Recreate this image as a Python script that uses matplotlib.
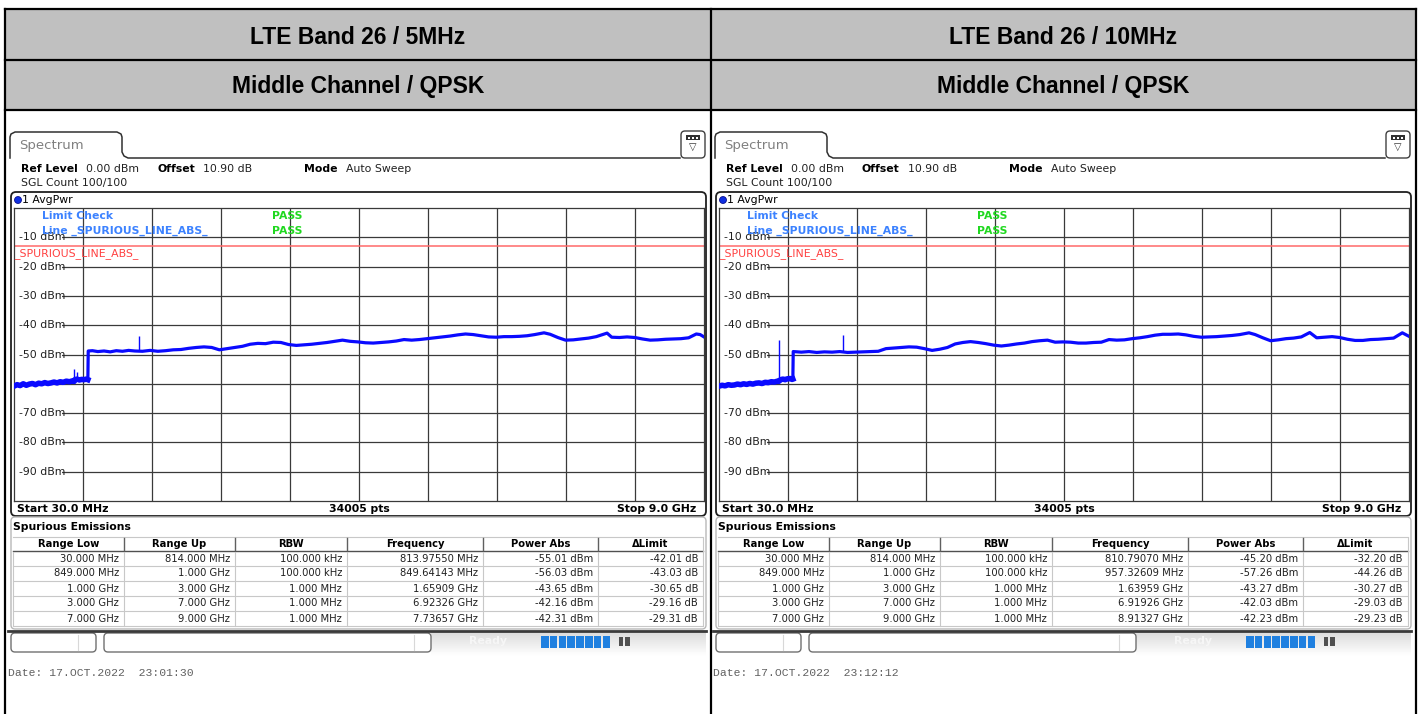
import matplotlib
matplotlib.use('Agg')
import matplotlib.pyplot as plt
import numpy as np
from matplotlib.patches import Rectangle, FancyBboxPatch, Circle

W, H = 1421, 714

titles = ['LTE Band 26 / 5MHz', 'LTE Band 26 / 10MHz']
subtitles = ['Middle Channel / QPSK', 'Middle Channel / QPSK']
dates = ['Date: 17.OCT.2022  23:01:30', 'Date: 17.OCT.2022  23:12:12']

# trace 1 (5MHz), MHz / dBm
freq_5 = [30, 70, 110, 150, 190, 230, 270, 310, 350, 390, 430, 470, 510, 550, 590, 630, 670, 710, 750, 790, 812,
          820, 850, 880, 910, 940, 970, 990,
          995, 1050, 1120, 1200, 1280, 1360, 1440, 1520, 1600, 1700, 1800, 1900, 2000, 2100, 2200, 2300, 2400,
          2500, 2600, 2700, 2800, 2900, 3000, 3100, 3200, 3300, 3400, 3500, 3600, 3700, 3800, 3900, 4000, 4100,
          4200, 4300, 4400, 4500, 4600, 4700, 4800, 4900, 5000, 5100, 5200, 5300, 5400, 5500, 5600, 5700, 5800,
          5900, 6000, 6100, 6200, 6300, 6400, 6500, 6600, 6700, 6800, 6920, 7000, 7100, 7200, 7300, 7400, 7500,
          7600, 7740, 7800, 7900, 8000, 8100, 8200, 8300, 8400, 8500, 8600, 8700, 8800, 8900, 8950, 9000]
level_5 = [-60.8, -60.3, -60.6, -60.0, -60.5, -60.1, -59.9, -60.3, -59.8, -60.0, -59.6, -59.9, -59.7, -59.4, -59.7,
           -59.3, -59.5, -59.1, -59.3, -59.0, -59.2,
           -58.6, -58.4, -58.7, -58.5, -58.6, -58.4, -58.6,
           -48.8, -48.7, -49.0, -48.8, -49.1, -48.7, -48.9, -48.6, -48.8, -48.9, -48.6, -48.9, -48.7, -48.4, -48.3,
           -47.9, -47.6, -47.4, -47.6, -48.4, -48.0, -47.6, -47.2, -46.5, -46.2, -46.3, -45.8, -45.9, -46.6, -46.9,
           -46.7, -46.5, -46.2, -45.9, -45.5, -45.1, -45.5, -45.7, -46.0, -46.1, -45.9, -45.7, -45.4, -44.9, -45.1,
           -44.9, -44.6, -44.3, -44.0, -43.7, -43.3, -43.0, -43.2, -43.6, -44.0, -44.1, -43.9, -43.9, -43.8, -43.6,
           -43.2, -42.6, -43.1, -44.2, -45.1, -45.0, -44.7, -44.4, -43.9, -42.7, -44.1, -44.2, -44.0, -44.2, -44.7,
           -45.1, -45.0, -44.8, -44.7, -44.6, -44.3, -43.0, -43.2, -44.0]
spike_f_5 = [813.98, 849.64, 1659.09]
spike_top_5 = [-55.01, -56.03, -43.65]

# trace 1 (10MHz)
freq_10 = [30, 70, 110, 150, 190, 230, 270, 310, 350, 390, 430, 470, 510, 550, 590, 630, 670, 710, 750, 790, 806,
           830, 860, 890, 920, 957, 980, 990,
           995, 1100, 1200, 1300, 1400, 1500, 1600, 1700, 1800, 1900, 2000, 2100, 2200, 2300, 2400, 2500, 2600,
           2700, 2800, 2900, 3000, 3100, 3200, 3300, 3400, 3500, 3600, 3700, 3800, 3900, 4000, 4100, 4200, 4300,
           4400, 4500, 4600, 4700, 4800, 4900, 5000, 5100, 5200, 5300, 5400, 5500, 5600, 5700, 5800, 5900, 6000,
           6100, 6200, 6300, 6400, 6500, 6600, 6700, 6800, 6920, 7000, 7100, 7200, 7300, 7400, 7500, 7600, 7710,
           7800, 7900, 8000, 8100, 8200, 8300, 8400, 8500, 8600, 8700, 8800, 8913, 9000]
level_10 = [-60.8, -60.5, -60.7, -60.3, -60.5, -60.4, -60.1, -60.3, -60.0, -60.2, -59.9, -60.1, -59.8, -59.7, -59.9,
            -59.5, -59.6, -59.3, -59.4, -59.1, -59.2,
            -58.6, -58.4, -58.6, -58.3, -58.2, -58.5, -58.4,
            -49.0, -49.2, -49.0, -49.3, -49.1, -49.2, -49.0, -49.3, -49.2, -49.1, -49.0, -48.9, -48.0, -47.8, -47.6,
            -47.4, -47.5, -48.0, -48.6, -48.2, -47.6, -46.4, -45.9, -45.6, -45.9, -46.3, -46.8, -47.1, -46.8, -46.4,
            -46.1, -45.6, -45.3, -45.1, -45.8, -45.7, -45.8, -46.1, -46.1, -45.9, -45.8, -44.9, -45.1, -45.0, -44.6,
            -44.3, -43.9, -43.4, -43.1, -43.1, -43.0, -43.3, -43.8, -44.1, -44.0, -43.9, -43.7, -43.5, -43.2, -42.6,
            -43.2, -44.3, -45.3, -45.0, -44.6, -44.4, -44.0, -42.5, -44.3, -44.1, -43.9, -44.2, -44.8, -45.2, -45.2,
            -44.9, -44.8, -44.6, -44.4, -42.6, -43.8]
spike_f_10 = [810.79, 1639.59]
spike_top_10 = [-45.20, -43.27]

limit_dbm = -13.0
y_ticks = [-10, -20, -30, -40, -50, -70, -80, -90]

col_names = ['Range Low', 'Range Up', 'RBW', 'Frequency', 'Power Abs', '\u0394Limit']
range_low = ['30.000 MHz', '849.000 MHz', '1.000 GHz', '3.000 GHz', '7.000 GHz']
range_up = ['814.000 MHz', '1.000 GHz', '3.000 GHz', '7.000 GHz', '9.000 GHz']
rbw = ['100.000 kHz', '100.000 kHz', '1.000 MHz', '1.000 MHz', '1.000 MHz']
peak_freq_5 = ['813.97550 MHz', '849.64143 MHz', '1.65909 GHz', '6.92326 GHz', '7.73657 GHz']
power_5 = ['-55.01 dBm', '-56.03 dBm', '-43.65 dBm', '-42.16 dBm', '-42.31 dBm']
dlimit_5 = ['-42.01 dB', '-43.03 dB', '-30.65 dB', '-29.16 dB', '-29.31 dB']
peak_freq_10 = ['810.79070 MHz', '957.32609 MHz', '1.63959 GHz', '6.91926 GHz', '8.91327 GHz']
power_10 = ['-45.20 dBm', '-57.26 dBm', '-43.27 dBm', '-42.03 dBm', '-42.23 dBm']
dlimit_10 = ['-32.20 dB', '-44.26 dB', '-30.27 dB', '-29.03 dB', '-29.23 dB']

SCR = 7.8   # screen font size
TAB = 7.2   # table font size

fig = plt.figure(figsize=(W / 100, H / 100), dpi=100)
bg = fig.add_axes([0, 0, 1, 1])
bg.set_xlim(0, W)
bg.set_ylim(H, 0)
bg.axis('off')

# outer document table
bg.add_patch(Rectangle((5, 9), 1411, 101, fc='#C0C0C0', ec='none'))
for y in [9, 60, 110]:
    bg.plot([5, 1416], [y, y], color='black', lw=1.6)
for x in [5, 711, 1416]:
    bg.plot([x, x], [9, H], color='black', lw=1.6)
for i, cx in enumerate([358, 1063]):
    bg.text(cx, 37, titles[i], ha='center', va='center', fontsize=16.5, fontweight='bold',
            family='Liberation Sans')
    bg.text(cx, 86, subtitles[i], ha='center', va='center', fontsize=16.5, fontweight='bold',
            family='Liberation Sans')


def draw_panel(dx, freq, level, spike_f, spike_top, pk_freq, power, dlim, date):
    # tab + header
    tx = [10, 10, 11, 15, 117, 121, 122, 122, 124, 128, 680]
    ty = [158, 137, 134, 132, 132, 134, 137, 152, 156, 158, 158]
    bg.plot([v + dx for v in tx], ty, color='#303030', lw=1.1)
    bg.text(19 + dx, 145, 'Spectrum', fontsize=9.5, color='#808080', va='center')
    bg.add_patch(FancyBboxPatch((681 + dx, 131), 24, 27, boxstyle='round,pad=0,rounding_size=4',
                                fc='white', ec='#404040', lw=1))
    bg.add_patch(Rectangle((686 + dx, 135), 14, 5, fc='#303030', ec='none'))
    for k in range(3):
        bg.add_patch(Rectangle((688 + dx + k * 4, 136.5), 2, 2, fc='white', ec='none'))
    bg.text(693 + dx, 147, '\u25bd', fontsize=7, ha='center', va='center', color='#303030')

    bg.text(21 + dx, 169, 'Ref Level', fontsize=SCR, fontweight='bold', va='center')
    bg.text(86 + dx, 169, '0.00 dBm', fontsize=SCR, va='center', color='#202020')
    bg.text(157 + dx, 169, 'Offset', fontsize=SCR, fontweight='bold', va='center')
    bg.text(203 + dx, 169, '10.90 dB', fontsize=SCR, va='center', color='#202020')
    bg.text(304 + dx, 169, 'Mode', fontsize=SCR, fontweight='bold', va='center')
    bg.text(346 + dx, 169, 'Auto Sweep', fontsize=SCR, va='center', color='#202020')
    bg.text(21 + dx, 183, 'SGL Count 100/100', fontsize=SCR, va='center', color='#202020')

    # diagram frame
    bg.add_patch(FancyBboxPatch((11 + dx, 192), 695, 324, boxstyle='round,pad=0,rounding_size=5',
                                fc='white', ec='#202020', lw=1.3))
    bg.add_patch(Circle((18 + dx, 200), 3.5, fc='#1030E0', ec='#000080', lw=0.5))
    bg.text(22 + dx, 200, '1 AvgPwr', fontsize=SCR, va='center')
    bg.text(17 + dx, 509, 'Start 30.0 MHz', fontsize=SCR, fontweight='bold', va='center')
    bg.text(359 + dx, 509, '34005 pts', fontsize=SCR, fontweight='bold', va='center', ha='center')
    bg.text(696 + dx, 509, 'Stop 9.0 GHz', fontsize=SCR, fontweight='bold', va='center', ha='right')

    ax = fig.add_axes([(14 + dx) / W, (H - 501) / H, 690 / W, 293 / H])
    ax.set_xlim(30, 9000)
    ax.set_ylim(-100, 0)
    ax.set_xticks(np.linspace(30, 9000, 11)[1:-1])
    ax.set_yticks(np.arange(-90, 0, 10))
    ax.tick_params(length=0, labelbottom=False, labelleft=False)
    ax.grid(True, color='#3a3a3a', lw=0.9)
    for s in ax.spines.values():
        s.set_color('#3a3a3a')
        s.set_linewidth(0.9)
    ax.axhline(limit_dbm, color='#FF6A6A', lw=1.1, zorder=2)

    f = np.array(freq)
    lv = np.array(level)
    ax.plot(f, lv, color='#0A0AFF', lw=2.3, zorder=4, solid_joinstyle='round')
    low = f < 992
    ax.plot(f[low], lv[low], color='#0A0AFF', lw=4.0, zorder=4)
    base = np.interp(spike_f, f, lv)
    ax.vlines(spike_f, base, spike_top, color='#0A0AFF', lw=1.0, zorder=4)

    for yt in y_ticks:
        # white patch hides the grid line left of the label
        ax.add_patch(Rectangle((0.0015, yt - 1.6), 0.068, 3.2, transform=ax.get_yaxis_transform(),
                               fc='white', ec='none', zorder=2.5))
        ax.text(0.007, yt, f'{yt} dBm', transform=ax.get_yaxis_transform(), fontsize=SCR,
                va='center', ha='left', color='#202020', zorder=3)

    bg_t = bg.transData
    ax.text(42 + dx, 216, 'Limit Check', transform=bg_t, fontsize=SCR, fontweight='bold',
            color='#3C82FF', va='center', zorder=5)
    ax.text(272 + dx, 216, 'PASS', transform=bg_t, fontsize=SCR, fontweight='bold',
            color='#20D820', va='center', zorder=5)
    ax.text(42 + dx, 231, 'Line _SPURIOUS_LINE_ABS_', transform=bg_t, fontsize=SCR, fontweight='bold',
            color='#3C82FF', va='center', zorder=5)
    ax.text(272 + dx, 231, 'PASS', transform=bg_t, fontsize=SCR, fontweight='bold',
            color='#20D820', va='center', zorder=5)
    ax.text(14 + dx, 254, '_SPURIOUS_LINE_ABS_', transform=bg_t, fontsize=SCR,
            color='#FF4040', va='center', zorder=5)

    # spurious emissions table
    bg.add_patch(FancyBboxPatch((11 + dx, 517), 695, 112, boxstyle='round,pad=0,rounding_size=4',
                                fc='white', ec='#B8B8B8', lw=1))
    bg.text(13 + dx, 527, 'Spurious Emissions', fontsize=SCR, fontweight='bold', va='center')
    edges = [13, 124, 235, 347, 483, 598, 703]
    rows = [range_low, range_up, rbw, pk_freq, power, dlim]
    bg.plot([13 + dx, 703 + dx], [537, 537], color='#C8C8C8', lw=0.8)
    bg.plot([13 + dx, 703 + dx], [551, 551], color='#505050', lw=1)
    for c in range(6):
        x0, x1 = edges[c] + dx, edges[c + 1] + dx
        bg.text((x0 + x1) / 2, 544, col_names[c], fontsize=TAB, fontweight='bold', ha='center', va='center')
        if c < 5:
            bg.plot([x1, x1], [538, 550], color='#606060', lw=1)
            bg.plot([x1, x1], [552, 626], color='#C8C8C8', lw=0.8)
        for r in range(5):
            bg.text(x1 - 5, 558.5 + r * 15, rows[c][r], fontsize=TAB, ha='right', va='center',
                    color='#202020')
    for r in range(5):
        y = 566 + r * 15
        bg.plot([13 + dx, 703 + dx], [y, y], color='#C8C8C8', lw=0.8)
    bg.plot([13 + dx, 13 + dx], [552, 626], color='#C8C8C8', lw=0.8)
    bg.plot([703 + dx, 703 + dx], [538, 626], color='#C8C8C8', lw=0.8)

    # status bar
    bg.plot([8 + dx, 706 + dx], [630.5, 630.5], color='#3a3a3a', lw=2)
    grad = np.linspace(0.86, 1.0, 30).reshape(-1, 1) * np.ones((1, 10))
    bg.imshow(grad, cmap='gray', vmin=0, vmax=1, extent=(431 + dx, 706 + dx, 656, 632),
              aspect='auto', zorder=0.5)
    bg.add_patch(FancyBboxPatch((11 + dx, 633), 85, 19, boxstyle='round,pad=0,rounding_size=4',
                                fc='white', ec='#707070', lw=1))
    bg.add_patch(FancyBboxPatch((104 + dx, 633), 327, 19, boxstyle='round,pad=0,rounding_size=4',
                                fc='white', ec='#707070', lw=1))
    bg.plot([78 + dx, 78 + dx], [635, 650], color='#D8D8D8', lw=0.8)
    bg.plot([414 + dx, 414 + dx], [635, 650], color='#D8D8D8', lw=0.8)
    bg.text(488 + dx, 641, 'Ready', fontsize=SCR, fontweight='bold', color='#F6F6F6', ha='center', va='center')
    for k in range(8):
        bg.add_patch(Rectangle((541 + dx + k * 8.8, 636), 7.6, 12, fc='#1F80E0', ec='none'))
    bg.add_patch(Rectangle((619 + dx, 637), 4, 9, fc='#505050', ec='none'))
    bg.add_patch(Rectangle((625 + dx, 637), 5, 9, fc='#505050', ec='none'))

    bg.text(8 + dx, 673, date, fontsize=8.2, family='Liberation Mono', color='#606060', va='center')


draw_panel(0, freq_5, level_5, spike_f_5, spike_top_5, peak_freq_5, power_5, dlimit_5, dates[0])
draw_panel(705, freq_10, level_10, spike_f_10, spike_top_10, peak_freq_10, power_10, dlimit_10, dates[1])

bg.set_xlim(0, W)
bg.set_ylim(H, 0)
fig.savefig('out.png', dpi=100)
